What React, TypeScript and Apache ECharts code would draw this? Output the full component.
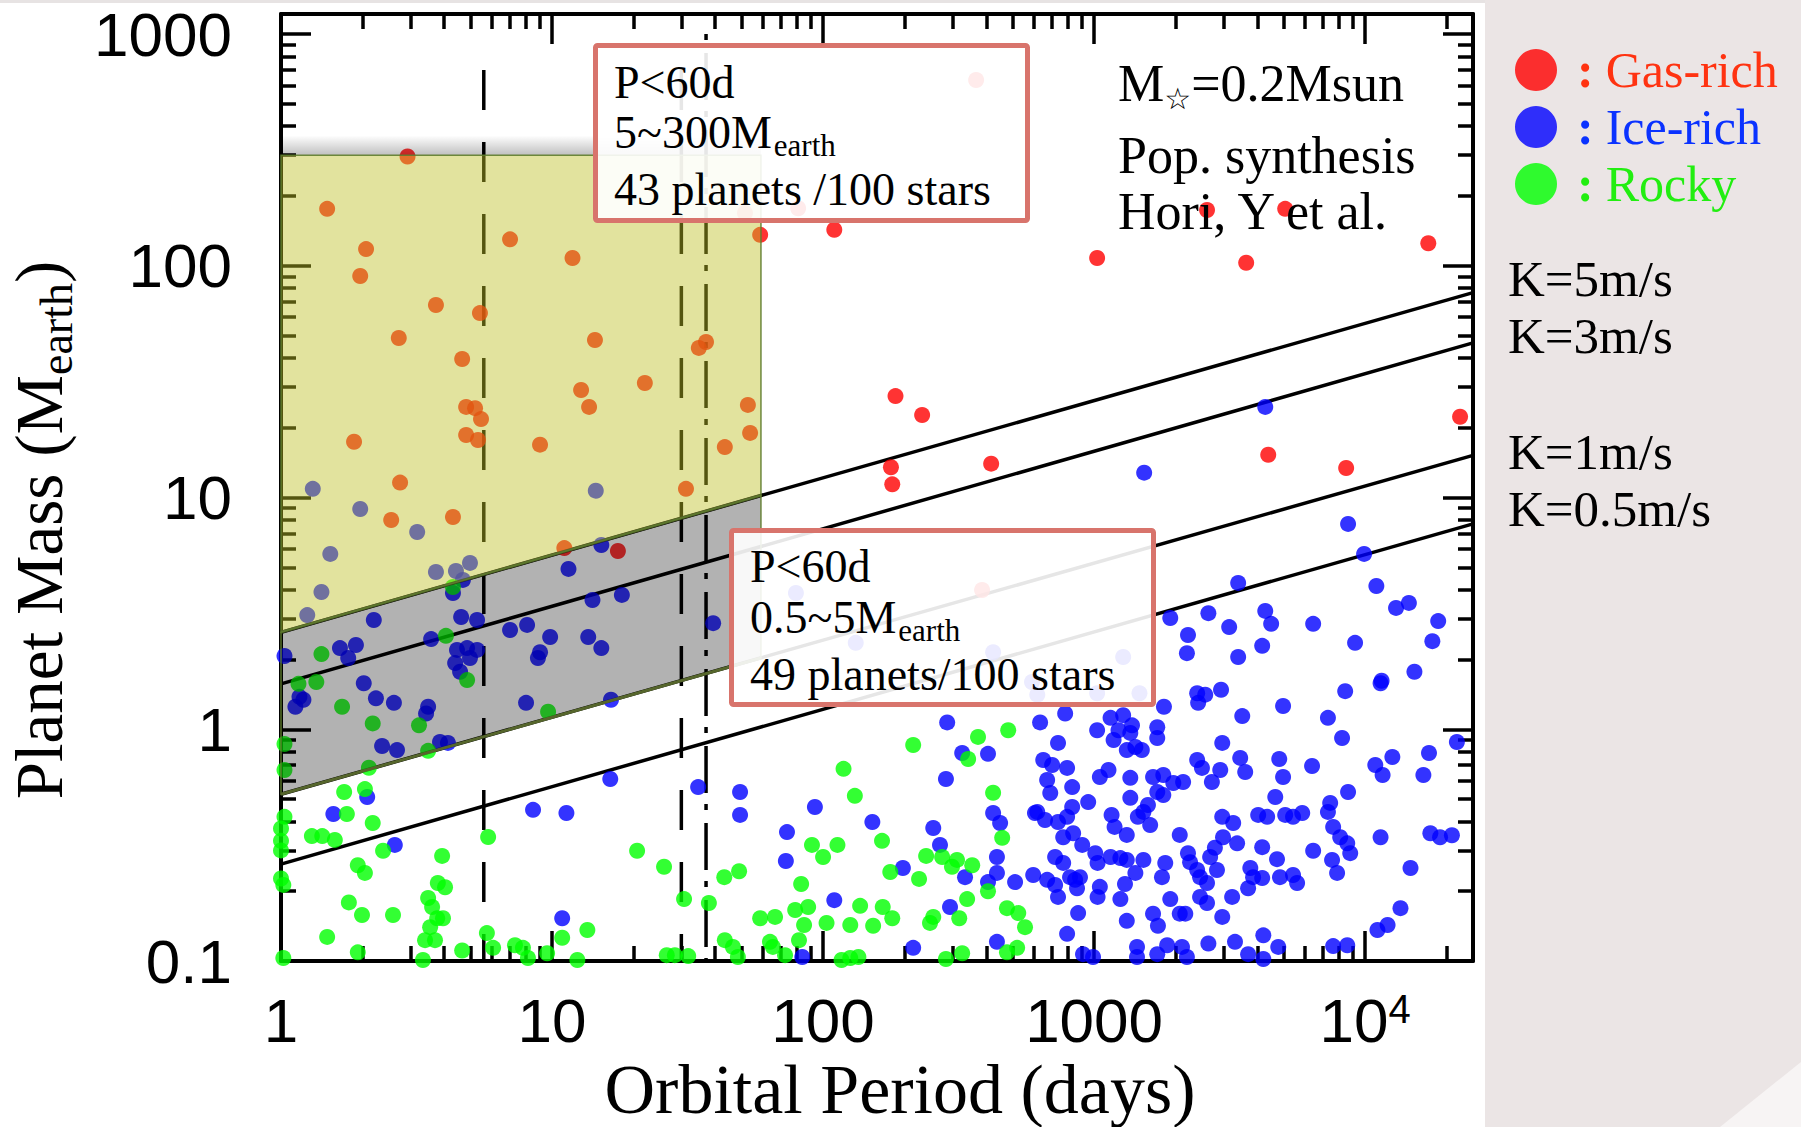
import React, { useEffect, useRef } from 'react';
import * as echarts from 'echarts';

// ---------------- data ----------------
const periodMin = 1;
const periodMax = 25000;
const massMin = 0.1;
const massMax = 1220;
const xTickLabels = ['1', '10', '100', '1000', '10{sup|4}'];
const yTickLabels = ['0.1', '1', '10', '100', '1000'];

const categories = ['Gas-rich', 'Ice-rich', 'Rocky'];

// [orbital period (days), planet mass (M_earth)]
const gasRich = [
  [2.93, 296], [1.48, 176], [2.06, 118], [1.96, 90.3], [7.0, 130], [11.9, 108], [3.73, 67.7], [5.42, 62.5],
  [2.72, 48.8], [4.66, 39.6], [14.4, 47.8], [12.8, 29.1], [13.7, 24.6], [22.0, 31.2], [4.82, 24.6], [5.2, 24.3],
  [5.47, 21.8], [4.82, 18.6], [5.33, 17.7], [1.86, 17.4], [9.03, 16.9], [2.75, 11.6], [2.55, 8.0], [4.31, 8.24],
  [11.1, 6.05], [17.5, 5.88], [52.8, 25.1], [53.8, 19.0], [43.4, 16.5], [31.2, 10.9], [58.6, 136], [34.8, 44.2],
  [37.0, 46.9], [110, 143], [1026, 108], [2610, 174], [5070, 176], [3640, 103], [17100, 125], [185, 27.4],
  [232, 22.7], [178, 13.5], [180, 11.4], [417, 14.0], [4390, 15.3], [8510, 13.4], [22400, 22.3], [367, 633],
  [51.5, 169], [80.9, 177], [386, 3.99],
];

const iceRich = [
  [1.31, 10.9], [1.96, 8.92], [3.18, 7.10], [1.52, 5.71], [1.41, 3.91], [1.25, 3.11], [3.73, 4.77], [4.42, 4.82],
  [4.98, 5.22], [4.69, 4.41], [4.31, 3.87], [14.5, 10.7], [11.5, 4.92], [15.2, 6.24], [2.20, 2.96], [4.62, 3.05],
  [5.29, 2.96], [3.58, 2.45], [1.03, 2.07], [1.65, 2.24], [1.89, 2.31], [1.77, 2.03], [4.46, 2.20], [4.86, 2.24],
  [5.29, 2.20], [4.39, 1.93], [4.58, 1.77], [4.98, 2.03], [7.0, 2.68], [8.09, 2.82], [9.84, 2.50], [9.03, 2.15],
  [8.87, 2.03], [1.17, 1.38], [1.13, 1.25], [1.21, 1.34], [2.02, 1.58], [2.24, 1.36], [2.61, 1.30], [3.49, 1.25],
  [3.43, 1.17], [8.02, 1.30], [2.36, 0.847], [2.68, 0.813], [3.86, 0.881], [4.13, 0.873], [14.1, 3.61], [18.1, 3.80],
  [13.6, 2.50], [15.2, 2.24], [39.3, 2.87], [2.08, 0.510], [1.56, 0.431], [2.63, 0.317], [8.51, 0.449], [11.3, 0.435],
  [10.9, 0.153], [16.5, 1.34], [16.4, 0.610], [34.6, 0.563], [49.4, 0.536], [49.4, 0.427], [93.3, 0.462], [73.6, 0.360],
  [72.9, 0.270], [152, 0.398], [287, 1.07], [326, 0.790], [406, 0.783], [284, 0.610], [255, 0.375], [270, 0.317],
  [197, 0.252], [334, 0.230], [424, 0.435], [450, 0.394], [438, 0.281], [438, 0.240], [406, 0.219], [294, 0.171],
  [110, 0.183], [215, 0.114], [438, 0.121], [83.8, 0.104], [605, 0.435], [79.4, 3.87], [132, 2.36], [424, 2.15],
  [1280, 2.05], [1470, 1.43], [617, 1.41], [1026, 1.43], [590, 1.60], [1530, 12.8], [4280, 24.6], [8650, 7.69],
  [9910, 5.71], [3400, 4.28], [11000, 4.15], [13000, 3.34], [14500, 3.51], [18600, 2.93], [17700, 2.40], [1910, 3.02],
  [2640, 3.17], [3150, 2.76], [4280, 3.24], [4500, 2.85], [6430, 2.85], [2220, 2.55], [2200, 2.13], [4170, 2.29],
  [3400, 2.05], [9180, 2.36], [11500, 1.62], [15200, 1.77], [8440, 1.46], [11400, 1.58], [2400, 1.43], [2570, 1.41],
  [2940, 1.48], [2420, 1.30], [1810, 1.25], [4980, 1.26], [3520, 1.14], [7290, 1.12], [8220, 0.917], [782, 1.17],
  [632, 1.07], [1026, 0.99], [1150, 1.12], [1280, 1.15], [1380, 1.04], [1230, 0.99], [1180, 0.899], [1360, 0.964],
  [1420, 0.838], [1320, 0.813], [1500, 0.813], [1710, 1.02], [1710, 0.917], [736, 0.873], [2970, 0.873], [21800, 0.881],
  [12600, 0.759], [17200, 0.790], [16400, 0.635], [10900, 0.701], [11600, 0.635], [6370, 0.694], [4820, 0.744], [4980, 0.622],
  [3460, 0.752], [3610, 0.654], [2400, 0.737], [2500, 0.681], [2720, 0.592], [2920, 0.667], [649, 0.737], [700, 0.701],
  [795, 0.681], [671, 0.604], [689, 0.531], [830, 0.563], [1050, 0.622], [1130, 0.667], [1360, 0.617], [1650, 0.622],
  [1800, 0.635], [1960, 0.586], [2130, 0.592], [1710, 0.536], [1800, 0.520], [1580, 0.471], [1520, 0.440], [1450, 0.419],
  [1610, 0.386], [1360, 0.506], [951, 0.485], [617, 0.440], [659, 0.406], [736, 0.398], [795, 0.419], [830, 0.462],
  [1160, 0.427], [1190, 0.379], [1320, 0.350], [2070, 0.350], [2970, 0.419], [3260, 0.394], [2990, 0.342], [3370, 0.322],
  [4030, 0.427], [4350, 0.419], [5070, 0.427], [5420, 0.419], [5860, 0.435], [4660, 0.510], [8650, 0.536], [7430, 0.481],
  [7290, 0.440], [7620, 0.379], [8090, 0.342], [8590, 0.322], [8810, 0.292], [11400, 0.342], [17400, 0.356], [18900, 0.342],
  [20900, 0.349], [769, 0.342], [837, 0.356], [904, 0.317], [718, 0.281], [769, 0.265], [815, 0.230], [851, 0.224],
  [1010, 0.292], [1030, 0.265], [1150, 0.281], [1250, 0.278], [1320, 0.273], [1520, 0.273], [596, 0.235], [671, 0.224],
  [718, 0.213], [736, 0.189], [887, 0.230], [865, 0.206], [511, 0.219], [1050, 0.209], [1030, 0.189], [1300, 0.215],
  [1250, 0.185], [1420, 0.240], [1830, 0.265], [1780, 0.230], [2220, 0.292], [2260, 0.267], [2400, 0.247], [2460, 0.230],
  [2610, 0.217], [2680, 0.281], [2790, 0.308], [2840, 0.247], [2460, 0.189], [2610, 0.178], [1910, 0.185], [2070, 0.160],
  [2170, 0.160], [1650, 0.160], [1720, 0.142], [1320, 0.149], [873, 0.161], [3230, 0.189], [2970, 0.155], [3770, 0.252],
  [3860, 0.230], [4170, 0.228], [3700, 0.206], [4170, 0.310], [4730, 0.275], [4850, 0.230], [5420, 0.235], [5610, 0.217],
  [6430, 0.299], [7550, 0.273], [7880, 0.240], [14700, 0.252], [13500, 0.169], [11100, 0.136], [12100, 0.143], [4210, 0.129],
  [4780, 0.115], [795, 0.131], [910, 0.107], [991, 0.104], [1440, 0.115], [1440, 0.104], [1710, 0.107], [1860, 0.117],
  [2110, 0.115], [2200, 0.104], [2640, 0.119], [3310, 0.121], [3700, 0.107], [4210, 0.102], [7620, 0.116], [8590, 0.117],
];

const rocky = [
  [4.31, 4.11], [4.06, 2.53], [1.41, 2.11], [4.86, 1.63], [1.16, 1.57], [1.35, 1.60], [1.68, 1.25], [2.18, 1.06],
  [3.23, 1.04], [9.67, 1.19], [1.03, 0.864], [1.03, 0.667], [3.49, 0.807], [2.11, 0.682], [1.71, 0.536], [2.04, 0.552],
  [1.75, 0.431], [2.18, 0.394], [1.03, 0.419], [1.0, 0.373], [1.0, 0.33], [1.0, 0.30], [1.0, 0.227], [1.02, 0.213],
  [1.30, 0.346], [1.42, 0.346], [1.58, 0.333], [2.38, 0.299], [5.81, 0.343], [3.93, 0.284], [1.92, 0.259], [2.04, 0.240],
  [3.79, 0.217], [4.03, 0.208], [3.49, 0.187], [3.61, 0.171], [3.77, 0.153], [3.96, 0.153], [3.55, 0.140], [3.40, 0.123],
  [3.70, 0.123], [1.78, 0.179], [1.99, 0.158], [2.59, 0.158], [1.48, 0.127], [1.92, 0.109], [1.02, 0.103], [3.34, 0.101],
  [4.66, 0.111], [5.75, 0.132], [6.06, 0.114], [7.30, 0.117], [7.81, 0.114], [8.15, 0.103], [9.59, 0.108], [10.9, 0.126],
  [12.4, 0.101], [13.5, 0.136], [20.6, 0.299], [25.9, 0.255], [30.7, 0.185], [37.9, 0.178], [26.5, 0.106], [28.4, 0.106],
  [31.8, 0.105], [43.4, 0.123], [46.5, 0.115], [48.5, 0.104], [43.2, 0.230], [49.0, 0.244], [58.6, 0.153], [66.5, 0.155],
  [63.7, 0.121], [65.3, 0.115], [72.4, 0.106], [83.0, 0.215], [78.9, 0.166], [88.1, 0.171], [85.1, 0.143], [81.5, 0.123],
  [103, 0.146], [119, 0.675], [131, 0.516], [91.0, 0.317], [100, 0.281], [113, 0.317], [126, 0.143], [137, 0.173],
  [153, 0.142], [166, 0.171], [180, 0.153], [165, 0.330], [177, 0.242], [215, 0.855], [226, 0.226], [240, 0.284],
  [275, 0.281], [299, 0.255], [312, 0.273], [355, 0.259], [340, 0.185], [406, 0.200], [343, 0.744], [373, 0.927],
  [424, 0.532], [458, 0.340], [482, 0.99], [255, 0.155], [248, 0.146], [318, 0.153], [477, 0.169], [117, 0.101],
  [126, 0.103], [135, 0.104], [284, 0.102], [326, 0.108], [477, 0.109], [525, 0.161], [556, 0.140], [520, 0.114],
];

// constant radial-velocity semi-amplitude lines: mass at P = 1 d and at P = periodMax
const kLabels = ['K=5m/s', 'K=3m/s', 'K=1m/s', 'K=0.5m/s'];
const kMassAtStart = [2.62, 1.57, 0.524, 0.262];
const kMassAtEnd = [76.6, 46.5, 15.2, 7.7];

// vertical reference lines
const dashedPeriods = [5.6, 30];
const dashedTopMass = 700;
const dashDotPeriod = 37;
const dashDotTopMass = 1000;

// shaded regions (P < 60 d)
const giantRegion = [[1, 300], [59, 300], [59, 10.2], [1, 2.62]];
const smallRegion = [[1, 2.62], [59, 10.2], [59, 2.03], [1, 0.524]];
const shadowBand = [[1, 365], [59, 365], [59, 300], [1, 300]];

// box texts: [line1, line2 main, line2 subscript, line3]
const box1Lines = ['P<60d', '5~300M', 'earth', '43 planets /100 stars'];
const box2Lines = ['P<60d', '0.5~5M', 'earth', '49 planets/100 stars'];
const infoLines = ['M{star|☆}=0.2Msun', 'Pop. synthesis', 'Hori, Y et al.'];

// ---------------- styles ----------------
const SERIF = "'Liberation Serif','DejaVu Serif','Times New Roman',serif";
const SANS = "'Liberation Sans','DejaVu Sans',Arial,sans-serif";
const seriesColors = ['#ff0000', '#0000ff', '#00ff00'];
const legendTextColors = ['#ff3311', '#0a32ff', '#22ee11'];

const isPow10 = (v: number) => {
  const l = Math.log10(v);
  return Math.abs(l - Math.round(l)) < 1e-6;
};

let measureCtx: CanvasRenderingContext2D | null = null;
function measure(text: string, fontSize: number) {
  if (!measureCtx) measureCtx = document.createElement('canvas').getContext('2d');
  if (!measureCtx) return text.length * fontSize * 0.5;
  measureCtx.font = `${fontSize}px ${SERIF}`;
  return measureCtx.measureText(text).width;
}

function txt(x: number, y: number, text: string, fontSize: number, extra: any = {}) {
  return {
    type: 'text',
    x,
    y,
    z: 60,
    silent: true,
    style: {
      text,
      fill: '#000',
      fontSize,
      fontFamily: SERIF,
      align: 'left',
      textAlign: 'left',
      verticalAlign: 'middle',
      textVerticalAlign: 'middle',
      ...extra,
    },
  };
}

// a box line with a subscript: main text centred at y, subscript lowered by `drop` px
function subLine(x: number, y: number, main: string, sub: string, fs: number, subFs: number, drop: number) {
  const w = measure(main, fs);
  const mainBaseline = y + 0.3375 * fs;
  const subMiddle = mainBaseline + drop - 0.3375 * subFs;
  return [txt(x, y, main, fs, { lineHeight: 44 }), txt(x + w + 2, subMiddle, sub, subFs, { lineHeight: 22 })];
}

const subRich = (fs: number, lh: number) => ({
  sub: { fontSize: fs, lineHeight: lh, verticalAlign: 'bottom', fontFamily: SERIF, fill: '#000', color: '#000' },
});

function logAxis(position: string, min: number, max: number, showLabels: boolean, labels: string[], isX: boolean) {
  return {
    type: 'log',
    logBase: 10,
    position,
    min,
    max,
    axisLine: { show: true, onZero: false, lineStyle: { color: '#000', width: 4 } },
    axisTick: { show: true, inside: true, length: 30, lineStyle: { color: '#000', width: 3.5 } },
    minorTick: { show: true, splitNumber: 9, length: 15, lineStyle: { color: '#000', width: 3.5 } },
    splitLine: { show: false },
    minorSplitLine: { show: false },
    axisLabel: {
      show: showLabels,
      margin: isX ? 28 : 49,
      fontSize: 62,
      lineHeight: 62,
      fontFamily: SANS,
      color: '#000',
      formatter: (v: number) => {
        if (!isPow10(v)) return '';
        const e = Math.round(Math.log10(v)) - Math.round(Math.log10(min));
        return labels[e] ?? '';
      },
      rich: { sup: { fontSize: 40, lineHeight: 20, verticalAlign: 'top', fontFamily: SANS, color: '#000' } },
    },
  };
}

function regionSeries(points: number[][], fill: any, z: number, edges: boolean) {
  return {
    type: 'custom',
    silent: true,
    z,
    data: [[1, 1]],
    xAxisIndex: 0,
    yAxisIndex: 0,
    renderItem: (_p: any, api: any) => {
      const pts = points.map((p) => api.coord(p));
      const children: any[] = [
        { type: 'polygon', shape: { points: pts }, style: { fill, stroke: edges ? 'rgba(95,125,45,0.9)' : 'none', lineWidth: 1.5 } },
      ];
      if (edges) {
        children.push({ type: 'line', shape: { x1: pts[2][0], y1: pts[2][1], x2: pts[3][0], y2: pts[3][1] }, style: { stroke: '#56662c', lineWidth: 3 } });
      }
      return { type: 'group', children };
    },
  };
}

export default function App() {
  const ref = useRef<HTMLDivElement>(null);

  useEffect(() => {
    if (!ref.current) return;
    const chart = echarts.init(ref.current, undefined, { renderer: 'svg' });

    const scatterData = [gasRich, iceRich, rocky];
    const scatterSeries = categories.map((name, i) => ({
      name,
      type: 'scatter',
      data: scatterData[i],
      symbol: 'circle',
      symbolSize: 16,
      itemStyle: { color: seriesColors[i] },
      clip: false,
      silent: true,
      z: 2,
    }));

    const kSeries = kLabels.map((name, i) => ({
      name,
      type: 'line',
      data: [[periodMin, kMassAtStart[i]], [periodMax, kMassAtEnd[i]]],
      symbol: 'none',
      lineStyle: { color: '#000', width: 3.5 },
      silent: true,
      z: 2,
    }));

    const vSeries = [
      ...dashedPeriods.map((p) => ({
        type: 'line',
        data: [[p, dashedTopMass], [p, massMin]],
        symbol: 'none',
        lineStyle: { color: '#000', width: 3.5, type: [40, 32] },
        silent: true,
        z: 2,
      })),
      {
        type: 'line',
        data: [[dashDotPeriod, dashDotTopMass], [dashDotPeriod, massMin]],
        symbol: 'none',
        lineStyle: { color: '#000', width: 3.5, type: [6, 13, 47, 11] },
        silent: true,
        z: 2,
      },
    ];

    const shadowFill = new echarts.graphic.LinearGradient(0, 0, 0, 1, [
      { offset: 0, color: 'rgba(0,0,0,0)' },
      { offset: 1, color: 'rgba(0,0,0,0.25)' },
    ]);

    const legendRich: any = {};
    categories.forEach((_, i) => {
      legendRich['c' + i] = { color: legendTextColors[i], fontSize: 50, fontWeight: 'bold', fontFamily: SERIF, lineHeight: 40, padding: [0, 12, 0, 15] };
      legendRich['t' + i] = { color: legendTextColors[i], fontSize: 50, fontFamily: SERIF, lineHeight: 40 };
    });

    const kLabelY = [279, 336, 452, 509];

    const graphic: any[] = [
      { type: 'rect', z: 0, silent: true, shape: { x: 1485, y: 0, width: 316, height: 1127 }, style: { fill: '#ebe5e5' } },
      { type: 'polygon', z: 1, silent: true, shape: { points: [[1720, 1127], [1801, 1062], [1801, 1127]] }, style: { fill: '#f7f4f4' } },
      { type: 'rect', z: 0, silent: true, shape: { x: 0, y: 0, width: 1485, height: 3 }, style: { fill: '#e7e3e3' } },
      // info box 1
      { type: 'rect', z: 55, silent: true, shape: { x: 595.5, y: 45.5, width: 432, height: 175, r: 2 }, style: { fill: 'rgba(255,255,255,0.9)', stroke: '#d8746c', lineWidth: 5 } },
      txt(614, 82, box1Lines[0], 46, { lineHeight: 44 }),
      ...subLine(614, 132, box1Lines[1], box1Lines[2], 46, 31, 8),
      txt(614, 189, box1Lines[3], 46, { lineHeight: 44 }),
      // info box 2
      { type: 'rect', z: 55, silent: true, shape: { x: 731.5, y: 530.5, width: 422, height: 174, r: 2 }, style: { fill: 'rgba(255,255,255,0.9)', stroke: '#d8746c', lineWidth: 5 } },
      txt(750, 566, box2Lines[0], 46, { lineHeight: 44 }),
      ...subLine(750, 617, box2Lines[1], box2Lines[2], 46, 31, 8),
      txt(750, 674, box2Lines[3], 46, { lineHeight: 44 }),
      // model info
      txt(1118, 83, infoLines[0], 52, {
        lineHeight: 60,
        rich: { star: { fontSize: 30, lineHeight: 16, verticalAlign: 'bottom', fontFamily: "'DejaVu Sans',sans-serif", fill: '#000', color: '#000' } },
      }),
      txt(1118, 155, infoLines[1], 52, { lineHeight: 54 }),
      txt(1118, 211, infoLines[2], 52, { lineHeight: 54 }),
      // K labels
      ...kLabels.map((t, i) => txt(1508, kLabelY[i], t, 51, { lineHeight: 54 })),
      // axis titles
      txt(900, 1089, 'Orbital Period (days)', 70, { align: 'center', textAlign: 'center' }),
      {
        ...txt(39, 530, 'Planet Mass (M{sub|earth})', 67, { align: 'center', textAlign: 'center', lineHeight: 80, rich: subRich(46, 40) }),
        rotation: Math.PI / 2,
      },
    ];

    const option: any = {
      animation: false,
      backgroundColor: '#ffffff',
      grid: { left: 281, right: 328, top: 14, bottom: 166, containLabel: false },
      xAxis: [
        logAxis('bottom', periodMin, periodMax, true, xTickLabels, true),
        logAxis('top', periodMin, periodMax, false, xTickLabels, true),
      ],
      yAxis: [
        logAxis('left', massMin, massMax, true, yTickLabels, false),
        logAxis('right', massMin, massMax, false, yTickLabels, false),
      ],
      legend: {
        orient: 'vertical',
        left: 1510,
        top: 40,
        itemWidth: 42,
        itemHeight: 42,
        itemGap: 7,
        icon: 'circle',
        selectedMode: false,
        data: categories,
        formatter: (name: string) => {
          const i = categories.indexOf(name);
          return `{c${i}|:}{t${i}|${name}}`;
        },
        textStyle: { rich: legendRich, lineHeight: 40 },
      },
      graphic,
      series: [
        ...kSeries,
        ...vSeries,
        ...scatterSeries,
        regionSeries(shadowBand, shadowFill, 3, false),
        regionSeries(giantRegion, 'rgba(190,192,36,0.443)', 4, true),
        regionSeries(smallRegion, 'rgba(0,0,0,0.3)', 4, true),
      ],
    };

    chart.setOption(option);
    return () => chart.dispose();
  }, []);

  return <div ref={ref} style={{ position: 'absolute', left: 0, top: 0, width: 1801, height: 1127 }} />;
}
